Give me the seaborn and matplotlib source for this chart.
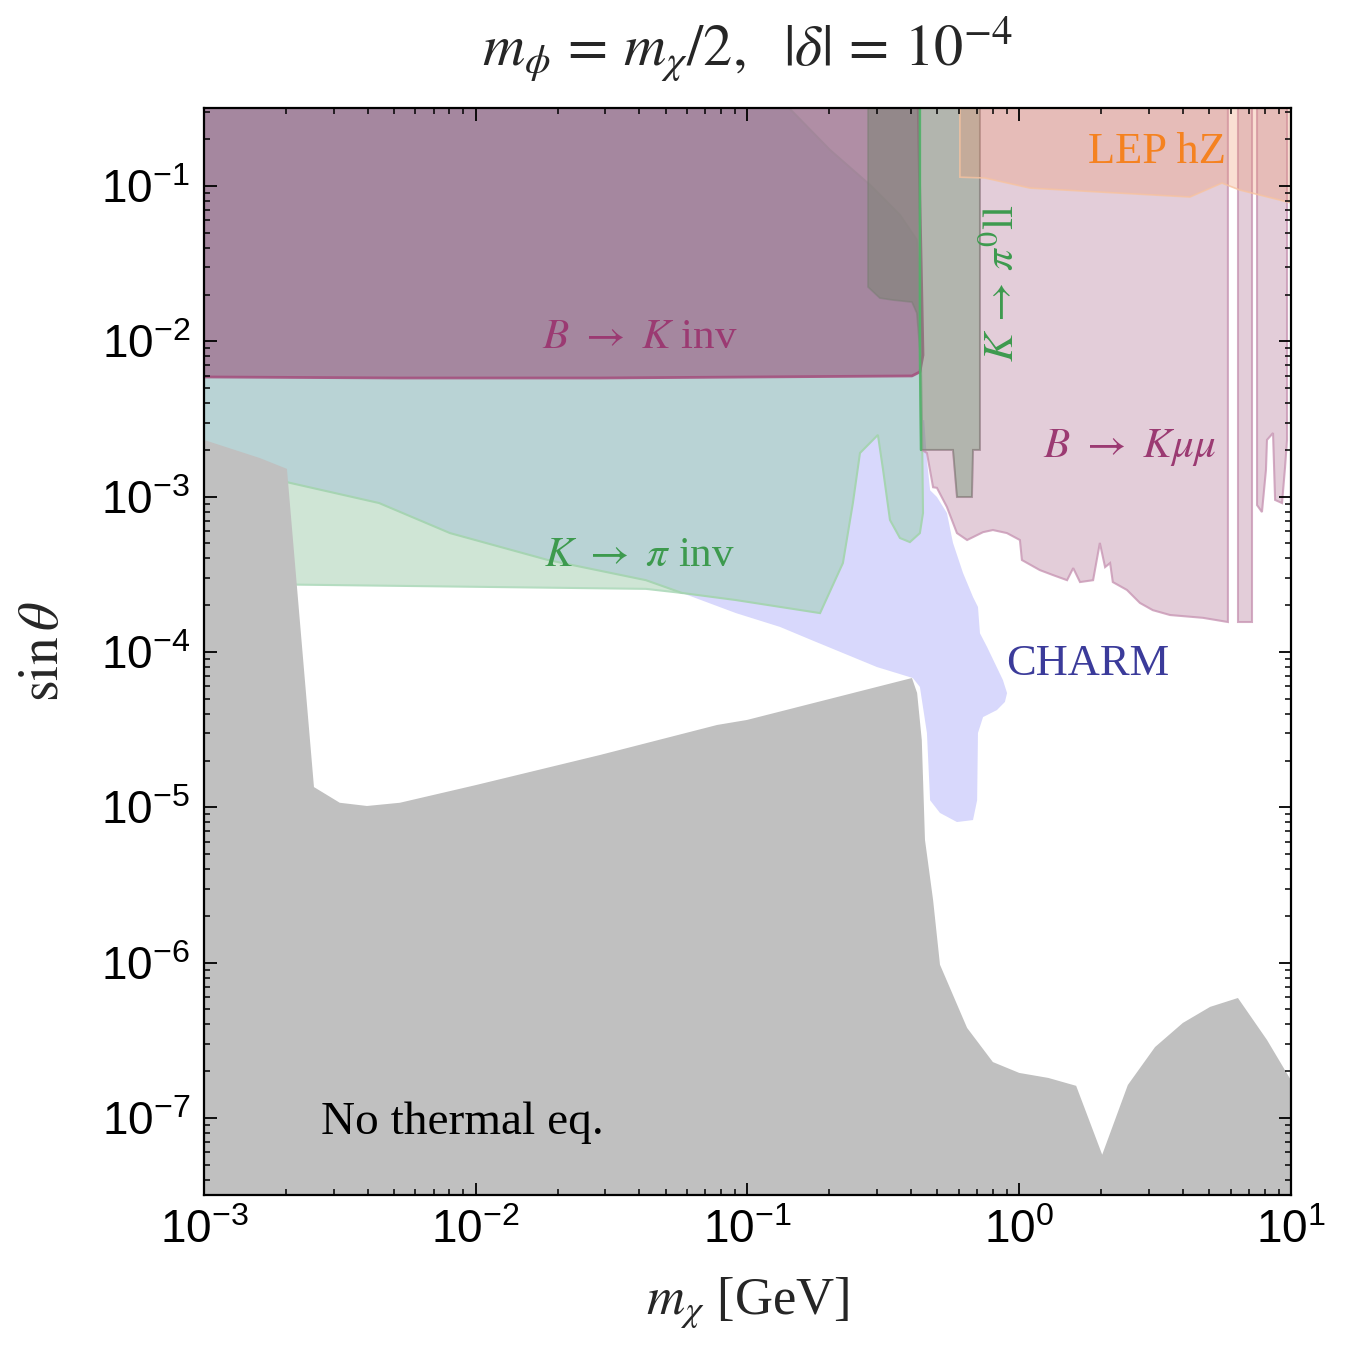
import matplotlib
matplotlib.use("Agg")
import matplotlib.pyplot as plt
import seaborn as sns
from matplotlib.ticker import LogLocator, LogFormatterSciNotation, NullFormatter

# --- data (m_chi in GeV, sin theta) ---

# No thermal eq. : upper edge of the grey region
thermal_m = [1e-3, 1.61e-3, 2.02e-3, 2.54e-3, 3.16e-3, 3.98e-3, 5.26e-3, 1e-2, 0.0286,
             0.0773, 0.0995, 0.403, 0.421, 0.438, 0.45, 0.482, 0.511, 0.643, 0.80, 1.0,
             1.28, 1.62, 2.02, 2.51, 3.16, 4.0, 5.04, 6.38, 8.16, 10.0]
thermal_s = [2.32e-3, 1.77e-3, 1.51e-3, 1.35e-5, 1.07e-5, 1.02e-5, 1.07e-5, 1.39e-5, 2.17e-5,
             3.39e-5, 3.65e-5, 6.8e-5, 5.45e-5, 2.71e-5, 6.17e-6, 2.53e-6, 9.7e-7, 3.8e-7,
             2.29e-7, 1.95e-7, 1.81e-7, 1.61e-7, 5.8e-8, 1.63e-7, 2.86e-7, 4.09e-7, 5.19e-7,
             5.92e-7, 3.18e-7, 1.75e-7]

# B -> K inv
bkinv_m = [1e-3, 0.424, 0.431, 0.4385, 0.4425, 0.431, 0.403, 0.0286, 5.26e-3, 1e-3]
bkinv_s = [0.4, 0.4, 0.0813, 0.01845, 8.16e-3, 6.36e-3, 5.99e-3, 5.81e-3, 5.81e-3, 5.9e-3]

# K -> pi inv (main)
kpi_m = [1e-3, 0.125, 0.201, 0.2825, 0.364, 0.42, 0.431, 0.4385, 0.4425, 0.431, 0.396,
         0.364, 0.3345, 0.3155, 0.302, 0.2594, 0.2443, 0.2245, 0.185, 0.0907, 0.0574,
         0.0423, 0.01845, 8.04e-3, 4.41e-3, 2.02e-3, 1e-3]
kpi_s = [0.4, 0.4, 0.171, 0.1015, 0.065, 0.0449, 0.01845, 3.11e-3, 7.85e-4, 5.83e-4, 5.1e-4,
         5.42e-4, 7.08e-4, 1.49e-3, 2.5e-3, 1.91e-3, 9.1e-4, 3.74e-4, 1.78e-4, 2.16e-4, 2.4e-4,
         2.9e-4, 3.91e-4, 5.83e-4, 9.1e-4, 1.24e-3, 1.85e-3]

# K -> pi inv (second, light green)
kpi2_m = [1e-3, 2.02e-3, 0.0423, 0.0574, 0.0574, 1e-3]
kpi2_s = [2.74e-4, 2.72e-4, 2.55e-4, 2.4e-4, 3e-3, 3e-3]

# CHARM
charm_m = [0.0574, 0.0907, 0.1318, 0.1727, 0.2996, 0.406, 0.431, 0.4575, 0.47, 0.511, 0.59,
           0.676, 0.70, 0.705, 0.736, 0.828, 0.886, 0.902, 0.871, 0.761, 0.717, 0.705, 0.676,
           0.621, 0.5705, 0.542, 0.498, 0.47, 0.4575, 0.447, 0.307, 0.0668]
charm_s = [2.4e-4, 1.78e-4, 1.45e-4, 1.19e-4, 8.0e-5, 6.8e-5, 5.96e-5, 3.01e-5, 1.11e-5, 9.2e-6,
           8.04e-6, 8.28e-6, 1.11e-5, 3.01e-5, 3.81e-5, 4.23e-5, 4.77e-5, 5.44e-5, 6.6e-5,
           1.08e-4, 1.32e-4, 1.95e-4, 2.26e-4, 3.23e-4, 5.04e-4, 7.85e-4, 9.95e-4, 1.1e-3,
           1.72e-3, 3.11e-3, 3.11e-3, 3.91e-4]

# B -> K mu mu (three pieces)
bkmm_m = [0.717, 0.717, 0.676, 0.67, 0.59, 0.5705, 0.4385, 0.4575, 0.482, 0.498, 0.542, 0.59,
          0.643, 0.736, 0.80, 0.901, 1.006, 1.023, 1.19, 1.33, 1.50, 1.58, 1.674, 1.87, 1.98,
          2.07, 2.16, 2.21, 2.49, 2.78, 3.10, 3.59, 4.74, 5.86, 5.86]
bkmm_s = [0.4, 2.0e-3, 2.0e-3, 9.95e-4, 9.95e-4, 2.0e-3, 2.0e-3, 1.91e-3, 1.15e-3, 1.14e-3,
          8.58e-4, 5.83e-4, 5.26e-4, 5.91e-4, 6.1e-4, 5.83e-4, 5.26e-4, 3.91e-4, 3.37e-4,
          3.13e-4, 2.9e-4, 3.47e-4, 2.82e-4, 2.9e-4, 5.04e-4, 3.52e-4, 3.74e-4, 2.82e-4,
          2.51e-4, 2.07e-4, 1.86e-4, 1.73e-4, 1.66e-4, 1.56e-4, 0.4]
bkmm2_m = [6.38, 6.38, 7.19, 7.19]
bkmm2_s = [0.4, 1.56e-4, 1.56e-4, 0.4]
bkmm3_m = [7.5, 7.5, 7.82, 8.09, 8.16, 8.59, 8.74, 9.27, 9.51, 9.67, 9.67]
bkmm3_s = [0.4, 8.83e-4, 7.96e-4, 1.49e-3, 2.32e-3, 2.57e-3, 9.53e-4, 9.1e-4, 1.55e-3,
           2.32e-3, 0.4]

# grey band left of K -> pi0 l l
kgrey_m = [0.2776, 0.2776, 0.307, 0.343, 0.403, 0.42, 0.431, 0.431]
kgrey_s = [0.4, 0.0224, 0.019, 0.01845, 0.0179, 0.0152, 8.79e-3, 0.4]

# K -> pi0 l l
kpll_m = [0.431, 0.431, 0.435, 0.5705, 0.59, 0.67, 0.676, 0.717, 0.717]
kpll_s = [0.4, 8.79e-3, 2.0e-3, 2.0e-3, 9.95e-4, 9.95e-4, 2.0e-3, 2.0e-3, 0.4]

# LEP hZ
lep_m = [0.605, 0.605, 0.748, 1.096, 1.98, 4.25, 5.57, 6.49, 12.0, 12.0]
lep_s = [0.4, 0.114, 0.1127, 0.097, 0.0915, 0.085, 0.1045, 0.0942, 0.072, 0.4]

# --- style ---
sns.set_theme(style="ticks")
plt.rcParams["font.family"] = ["Liberation Sans", "DejaVu Sans"]
plt.rcParams["mathtext.fontset"] = "stix"

fig = plt.figure(figsize=(13.48, 13.45), dpi=100)
ax = fig.add_axes([0.1513, 0.1115, 0.8064, 0.8082])
ax.set_xscale("log")
ax.set_yscale("log")

# regions, back to front
ax.fill(charm_m, charm_s, facecolor="#d8d8fc", edgecolor="none", zorder=1)
ax.fill(kpi2_m, kpi2_s, facecolor="#cfe5d5", edgecolor="#b4dcc0", lw=1.5, zorder=2)
ax.fill(kpi_m, kpi_s, facecolor="#b9d3d5", edgecolor="#a6d4b2", lw=1.5, zorder=3)
ax.fill(bkinv_m, bkinv_s, facecolor=(162/255, 122/255, 150/255, 0.85), edgecolor="none", zorder=4)
sns.lineplot(x=bkinv_m, y=bkinv_s, sort=False, estimator=None, color="#a4527f", lw=2,
             alpha=0.9, ax=ax, zorder=4.5)
for pm, ps in [(bkmm_m, bkmm_s), (bkmm2_m, bkmm2_s), (bkmm3_m, bkmm3_s)]:
    ax.fill(pm, ps, facecolor=(175/255, 112/255, 146/255, 0.35),
            edgecolor=(200/255, 150/255, 180/255, 0.8), lw=1.5, zorder=5)
ax.fill(kgrey_m, kgrey_s, facecolor=(128/255, 132/255, 120/255, 0.6),
        edgecolor=(120/255, 125/255, 115/255, 0.5), lw=1.2, zorder=6)
ax.fill(kpll_m, kpll_s, facecolor=(128/255, 132/255, 120/255, 0.6),
        edgecolor=(120/255, 130/255, 115/255, 0.5), lw=1.2, zorder=6)
sns.lineplot(x=kpll_m[:3], y=kpll_s[:3], sort=False, estimator=None, color="#4fb66a",
             lw=1.8, alpha=0.85, ax=ax, zorder=6.5)
ax.fill(lep_m, lep_s, facecolor=(240/255, 150/255, 110/255, 0.3),
        edgecolor=(247/255, 195/255, 160/255, 0.8), lw=1.2, zorder=7)
ax.fill_between(thermal_m, thermal_s, 1e-9, facecolor="#c0c0c0", edgecolor="none", zorder=8)

# labels
serif = ["Liberation Serif", "DejaVu Serif"]
ax.text(0.0402, 0.0105, r"$B\ \rightarrow\ K$ inv", color="#9b3a72", fontsize=31,
        family=serif, ha="center", va="center", zorder=10)
ax.text(2.56, 2.06e-3, r"$B\ \rightarrow\ K\mu\mu$", color="#9b3a72", fontsize=31,
        family=serif, ha="center", va="center", zorder=10)
ax.text(0.0402, 4.15e-4, r"$K\ \rightarrow\ \pi$ inv", color="#3d9a4e", fontsize=31,
        family=serif, ha="center", va="center", zorder=10)
ax.text(0.872, 0.0237, r"$K\,\rightarrow\,\pi^0$ll", color="#3d9a4e", fontsize=31,
        family=serif, ha="center", va="center", rotation=90, zorder=10)
ax.text(1.79, 8.37e-5, "CHARM", color="#3b3b9a", fontsize=32, family=serif,
        ha="center", va="center", zorder=10)
ax.text(3.21, 0.1655, "LEP hZ", color="#f58220", fontsize=32, family=serif,
        ha="center", va="center", zorder=10)
ax.text(8.9e-3, 9.3e-8, "No thermal eq.", color="black", fontsize=34, family=serif,
        ha="center", va="center", zorder=10)

ax.set_title(r"$m_\phi\,=\,m_\chi/2,\ \ |\delta|\,=\,10^{-4}$", fontsize=42, pad=30)
ax.set_xlabel(r"$m_\chi$ [GeV]", fontsize=38, family=serif, labelpad=16)
ax.set_ylabel(r"$\sin\theta$", fontsize=40, family=serif, labelpad=22)

ax.set_xlim(1e-3, 10)
ax.set_ylim(3.19e-8, 0.318)

for axis in (ax.xaxis, ax.yaxis):
    axis.set_major_locator(LogLocator(base=10, numticks=20))
    axis.set_minor_locator(LogLocator(base=10, subs=range(2, 10), numticks=20))
    axis.set_minor_formatter(NullFormatter())
    axis.set_zorder(11)
    axis.get_offset_text().set_visible(False)
ax.xaxis.set_major_formatter(LogFormatterSciNotation())
ax.yaxis.set_major_formatter(LogFormatterSciNotation())

ax.tick_params(which="both", direction="in", top=True, right=True, colors="black",
               labelsize=33)
ax.tick_params(which="major", length=9, width=1.3, pad=10)
ax.tick_params(which="minor", length=4.5, width=1.1)
for sp in ax.spines.values():
    sp.set_linewidth(1.6)
    sp.set_color("black")
    sp.set_zorder(12)

fig.savefig("out.png", dpi=100)
